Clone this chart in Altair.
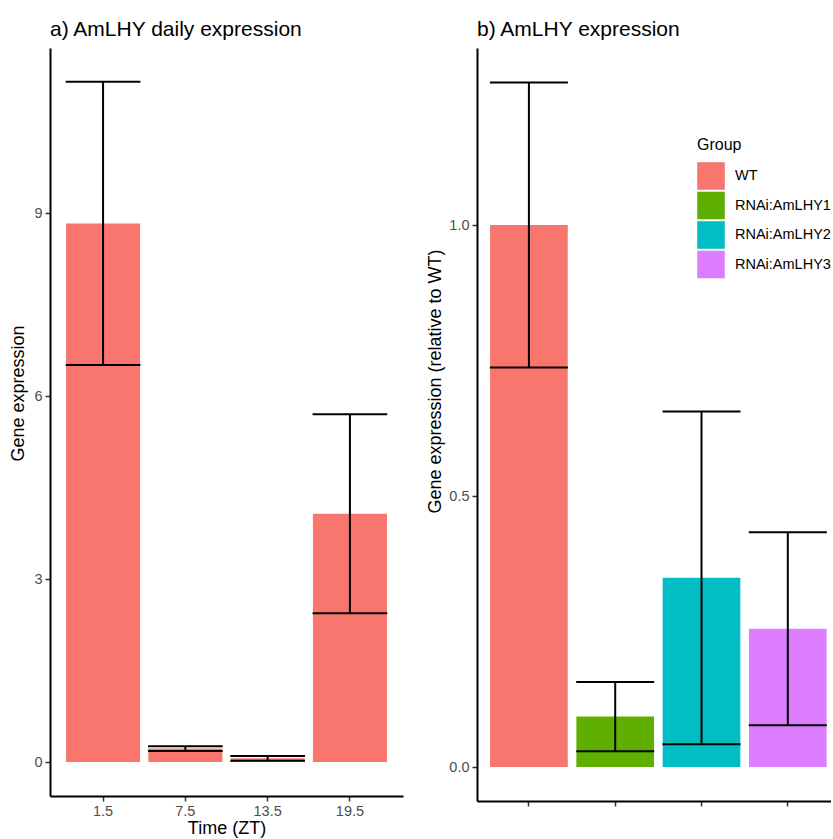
import altair as alt
import pandas as pd

# ---- Panel a: daily expression ----
times = ["1.5", "7.5", "13.5", "19.5"]
daily_mean = [8.83, 0.22, 0.06, 4.07]
daily_err = [2.32, 0.04, 0.04, 1.63]

# ---- Panel b: relative expression ----
groups = ["WT", "RNAi:AmLHY1", "RNAi:AmLHY2", "RNAi:AmLHY3"]
rel_mean = [1.0, 0.093, 0.349, 0.255]
rel_err = [0.263, 0.064, 0.307, 0.178]
group_colors = ["#F8766D", "#5FAF00", "#00BEC4", "#DC7EFF"]

a_ticks = [0, 3, 6, 9]
b_ticks = [0.0, 0.5, 1.0]

FONT = "Liberation Sans"

df_a = pd.DataFrame({"time": times, "mean": daily_mean, "err": daily_err})
df_b = pd.DataFrame({"group": groups, "mean": rel_mean, "err": rel_err})


def panel(df, xfield, order, xscale, xaxis, yscale, yaxis, color, title, w, h, tick_w):
    base = alt.Chart(df).transform_calculate(
        lo="datum.mean - datum.err", hi="datum.mean + datum.err"
    )
    x = alt.X(f"{xfield}:N", sort=order, scale=xscale, axis=xaxis)
    bars = base.mark_bar().encode(
        x=x, y=alt.Y("mean:Q", scale=yscale, axis=yaxis), color=color
    )
    rule = base.mark_rule(color="black", strokeWidth=2).encode(
        x=x, y="lo:Q", y2="hi:Q"
    )
    whisk = (
        base.transform_fold(["lo", "hi"], as_=["k", "v"])
        .mark_tick(color="black", thickness=2, size=tick_w, opacity=1)
        .encode(x=x, y="v:Q")
    )
    return alt.layer(bars, rule, whisk).properties(width=w, height=h, title=title)


left = panel(
    df_a, "time", times,
    alt.Scale(paddingInner=0.1, paddingOuter=0.195),
    alt.Axis(title="Time (ZT)", labelAngle=0, titlePadding=2),
    alt.Scale(domain=[-0.557, 11.705], nice=False, zero=False),
    alt.Axis(title="Gene expression", values=a_ticks, format="d", titleY=345, titlePadding=6),
    alt.value("#F8766D"),
    alt.Title("a) AmLHY daily expression", anchor="start", frame="group"),
    353, 748, 74.7,
)

right = panel(
    df_b, "group", groups,
    alt.Scale(paddingInner=0.1, paddingOuter=0.101, align=0.75),
    alt.Axis(title=None, labels=False, ticks=True),
    alt.Scale(domain=[-0.0627, 1.3266], nice=False, zero=False),
    alt.Axis(title="Gene expression (relative to WT)", values=b_ticks, format=".1f", titleY=333),
    alt.Color(
        "group:N",
        sort=groups,
        scale=alt.Scale(domain=groups, range=group_colors),
        legend=alt.Legend(
            title="Group", orient="none", legendX=647, legendY=89,
            symbolType="square", symbolSize=760, symbolStrokeWidth=0,
            symbolOpacity=1, rowPadding=1.5, labelOffset=10, titlePadding=9,
            labelLimit=400,
        ),
    ),
    alt.Title("b) AmLHY expression", anchor="start", frame="group"),
    354, 753, 78,
)

chart = (
    alt.hconcat(left, right, spacing=23)
    .properties(padding={"left": 9, "top": 19, "right": 0, "bottom": 0})
    .configure_view(stroke=None)
    .configure_axis(
        grid=False,
        domainColor="black", domainWidth=2,
        tickColor="#333333", tickWidth=1.5, tickSize=5,
        labelColor="#4D4D4D", labelFont=FONT, labelFontSize=14.5, labelPadding=3,
        titleColor="black", titleFont=FONT, titleFontSize=18, titleFontWeight="normal",
    )
    .configure_title(font=FONT, fontSize=21, fontWeight="normal", color="black", offset=8)
    .configure_legend(
        titleFont=FONT, titleFontSize=16, titleFontWeight="normal", titleColor="black",
        labelFont=FONT, labelFontSize=14.5, labelColor="black",
    )
)

chart.save("out.html", embed_options={"renderer": "svg", "actions": False})
